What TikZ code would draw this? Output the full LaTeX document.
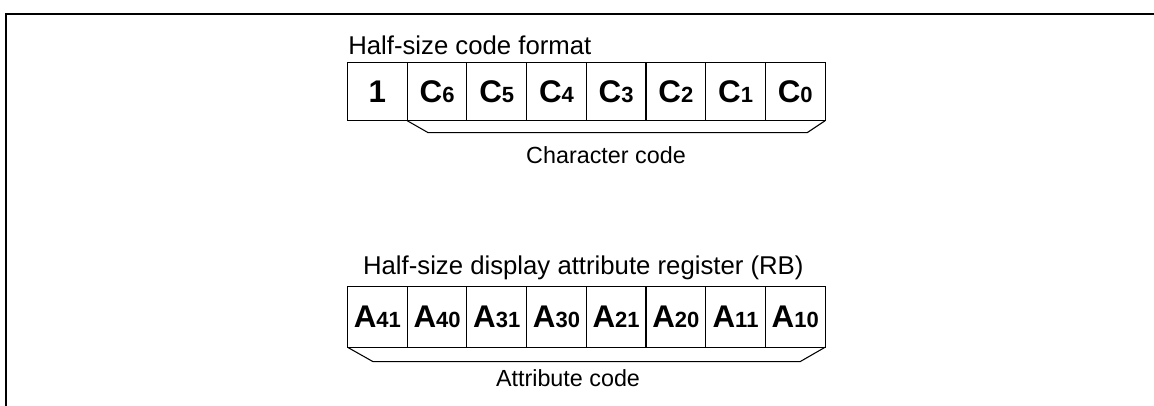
\documentclass[tikz,border=0pt]{standalone}
\usepackage{fontspec}
\setmainfont{Liberation Sans}
\usetikzlibrary{calc}

\newcommand\bitlbl[2]{#1{\fontsize{16.5}{16.5}\selectfont #2}}

\tikzset{
  cell/.style={draw, line width=0.8pt, inner sep=0pt, outer sep=0pt,
    minimum width=44.8pt, font=\bfseries\fontsize{23.5}{23.5}\selectfont},
  title/.style={inner sep=0pt, font=\fontsize{19.3}{19.3}\selectfont},
  caption/.style={inner sep=0pt, font=\fontsize{17.5}{17.5}\selectfont},
  brace/.style={line width=0.8pt}
}

\begin{document}
\begin{tikzpicture}[x=0.75pt, y=-0.75pt]
  \useasboundingbox (0,0) rectangle (1154,406);

  % outer frame (top and left only)
  \draw[line width=1.3pt] (1154,14) -- (6,14) -- (6,406);

  %---- half-size code format ----
  \node[title, anchor=base west] (fmt) at (348,54.3) {Half-size code format};

  \foreach \nm/\lab [count=\i] in {b7/1, c6/\bitlbl{C}{6}, c5/\bitlbl{C}{5},
      c4/\bitlbl{C}{4}, c3/\bitlbl{C}{3}, c2/\bitlbl{C}{2}, c1/\bitlbl{C}{1},
      c0/\bitlbl{C}{0}}{
    \node[cell, minimum height=43.5pt] (\nm) at ({347.5+59.7*(\i-0.5)},91.7) {\lab};
  }

  % bracket under C6..C0
  \draw[brace] (c6.south west) -- ++(21,12) coordinate (cl)
    -- ($(c0.south east)+(-18,12)$) coordinate (cr) -- (c0.south east);
  \node[caption, anchor=base] (chr) at (606,163.3) {Character code};

  %---- half-size display attribute register ----
  \node[title, anchor=base] (reg) at (583.3,275) {Half-size display attribute register (RB)};

  \foreach \nm/\lab [count=\i] in {a41/\bitlbl{A}{41}, a40/\bitlbl{A}{40},
      a31/\bitlbl{A}{31}, a30/\bitlbl{A}{30}, a21/\bitlbl{A}{21},
      a20/\bitlbl{A}{20}, a11/\bitlbl{A}{11}, a10/\bitlbl{A}{10}}{
    \node[cell, minimum height=45.8pt] (\nm) at ({347.5+59.7*(\i-0.5)},316.7) {\lab};
  }

  % bracket under A41..A10
  \draw[brace] (a41.south west) -- ++(25.5,14.4) coordinate (al)
    -- ($(a10.south east)+(-25,14.4)$) coordinate (ar) -- (a10.south east);
  \node[caption, anchor=base] (atr) at (568,386.7) {Attribute code};
\end{tikzpicture}
\end{document}
